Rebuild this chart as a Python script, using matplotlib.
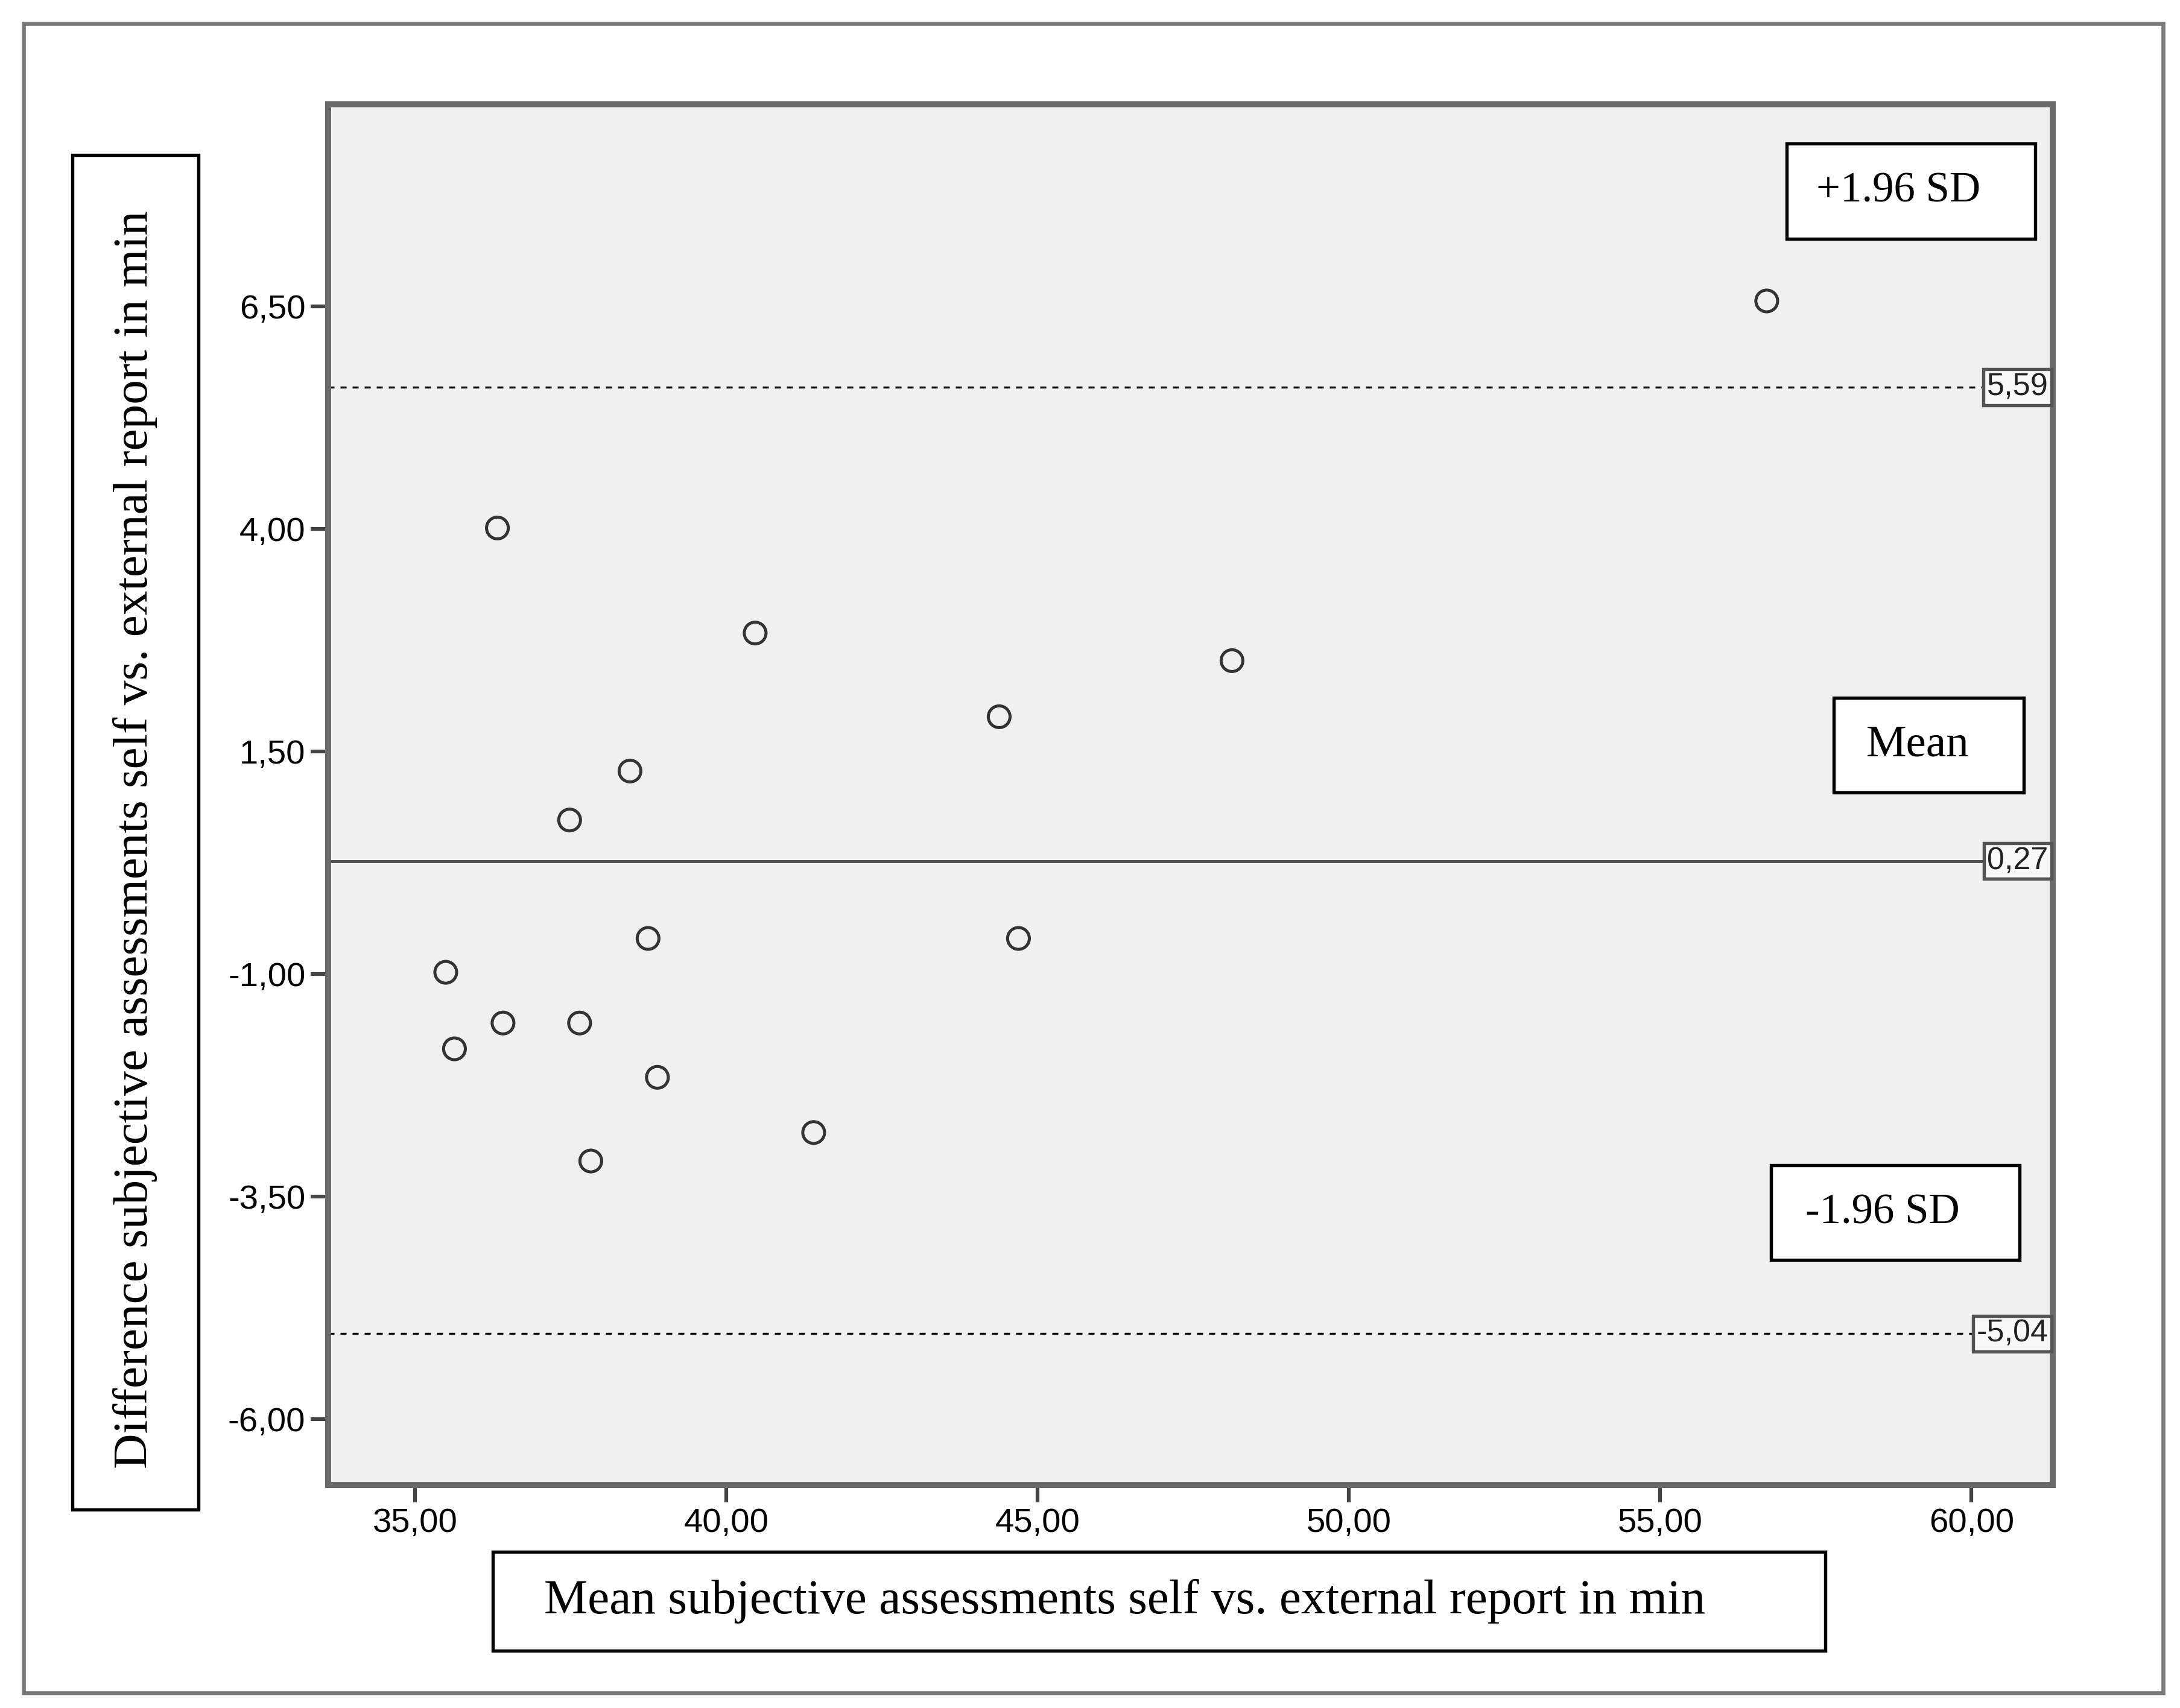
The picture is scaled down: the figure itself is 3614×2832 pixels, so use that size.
import numpy as np
import matplotlib
matplotlib.use('Agg')
import matplotlib.pyplot as plt
from matplotlib.patches import Rectangle
import matplotlib.transforms as mtransforms

# Bland-Altman data: mean of both reports (x) vs difference (y)
mean_vals = [56.71, 36.32, 40.46, 48.12, 44.38, 38.45, 37.48, 38.74,
             44.69, 35.49, 36.41, 37.64, 35.63, 38.89, 41.40, 37.82]
diff_vals = [6.56, 4.01, 2.83, 2.52, 1.89, 1.28, 0.73, -0.60,
             -0.60, -0.98, -1.55, -1.55, -1.84, -2.16, -2.78, -3.10]

mean_diff = 0.27
upper_loa = 5.59
lower_loa = -5.04

xticks = [35, 40, 45, 50, 55, 60]
yticks = [6.5, 4.0, 1.5, -1.0, -3.5, -6.0]

serif = 'Liberation Serif'
sans = 'Liberation Sans'

fig = plt.figure(figsize=(3614/300, 2832/300), dpi=300)
ax = fig.add_axes([0.1505, 0.1305, 0.7910, 0.8085])
ax.set_facecolor('#f0f0f0')

ax.scatter(mean_vals, diff_vals, s=75, facecolors='none', edgecolors='#333333',
           linewidths=1.2, zorder=3)

ax.axhline(upper_loa, color='black', lw=0.8, ls=(0, (3, 3)), zorder=2)
ax.axhline(mean_diff, color='#555555', lw=1.2, zorder=2)
ax.axhline(lower_loa, color='black', lw=0.8, ls=(0, (3, 3)), zorder=2)

ax.set_xlim(33.6, 61.3)
ax.set_ylim(-6.74, 8.77)
ax.set_xticks(xticks)
ax.set_yticks(yticks)
ax.set_xticklabels([('%.2f' % v).replace('.', ',') for v in xticks], fontname=sans, fontsize=13.5)
ax.set_yticklabels([('%.2f' % v).replace('.', ',') for v in yticks], fontname=sans, fontsize=13.5)
ax.tick_params(direction='out', length=7, width=1.5, color='#444444', pad=2)

for s in ax.spines.values():
    s.set_color('#6a6a6a')
    s.set_linewidth(2.4)

# value labels at right edge of the plot
trans = mtransforms.blended_transform_factory(ax.transAxes, ax.transData)
for v in [upper_loa, mean_diff, lower_loa]:
    ax.text(0.9975, v, ('%.2f' % v).replace('.', ','), transform=trans, ha='right', va='center',
            fontname=sans, fontsize=12.5, color='#222222', zorder=4,
            bbox=dict(boxstyle='square,pad=0.1', fc='#f8f8f8', ec='#555555', lw=1.3))

# outer frame
fig.patches.append(Rectangle((0.0109, 0.0090), 0.9814, 0.9771, transform=fig.transFigure,
                             fill=False, ec='#7a7a7a', lw=1.6))


def label_box(x, y, w, h, text, tx, size, rot=0, ty=None):
    fig.patches.append(Rectangle((x, y), w, h, transform=fig.transFigure,
                                 fc='white', ec='black', lw=1.3, zorder=5))
    if ty is None:
        ty = y + h / 2
    fig.text(tx, ty, text, ha='center', va='center', rotation=rot,
             fontname=serif, fontsize=size, zorder=6)


label_box(0.8195, 0.8603, 0.114, 0.0555, '+1.96 SD', 0.8707, 17)
label_box(0.8412, 0.5359, 0.0871, 0.0556, 'Mean', 0.8796, 18)
label_box(0.8124, 0.2623, 0.114, 0.0555, '-1.96 SD', 0.8636, 17)
label_box(0.0333, 0.1160, 0.0576, 0.7933,
          'Difference subjective assessments self vs. external report in min',
          0.0621, 19.5, rot=90, ty=0.5083)
label_box(0.2260, 0.0335, 0.6114, 0.0580,
          'Mean subjective assessments self vs. external report in min', 0.516, 19.5)

fig.savefig('out.png', dpi=300)
